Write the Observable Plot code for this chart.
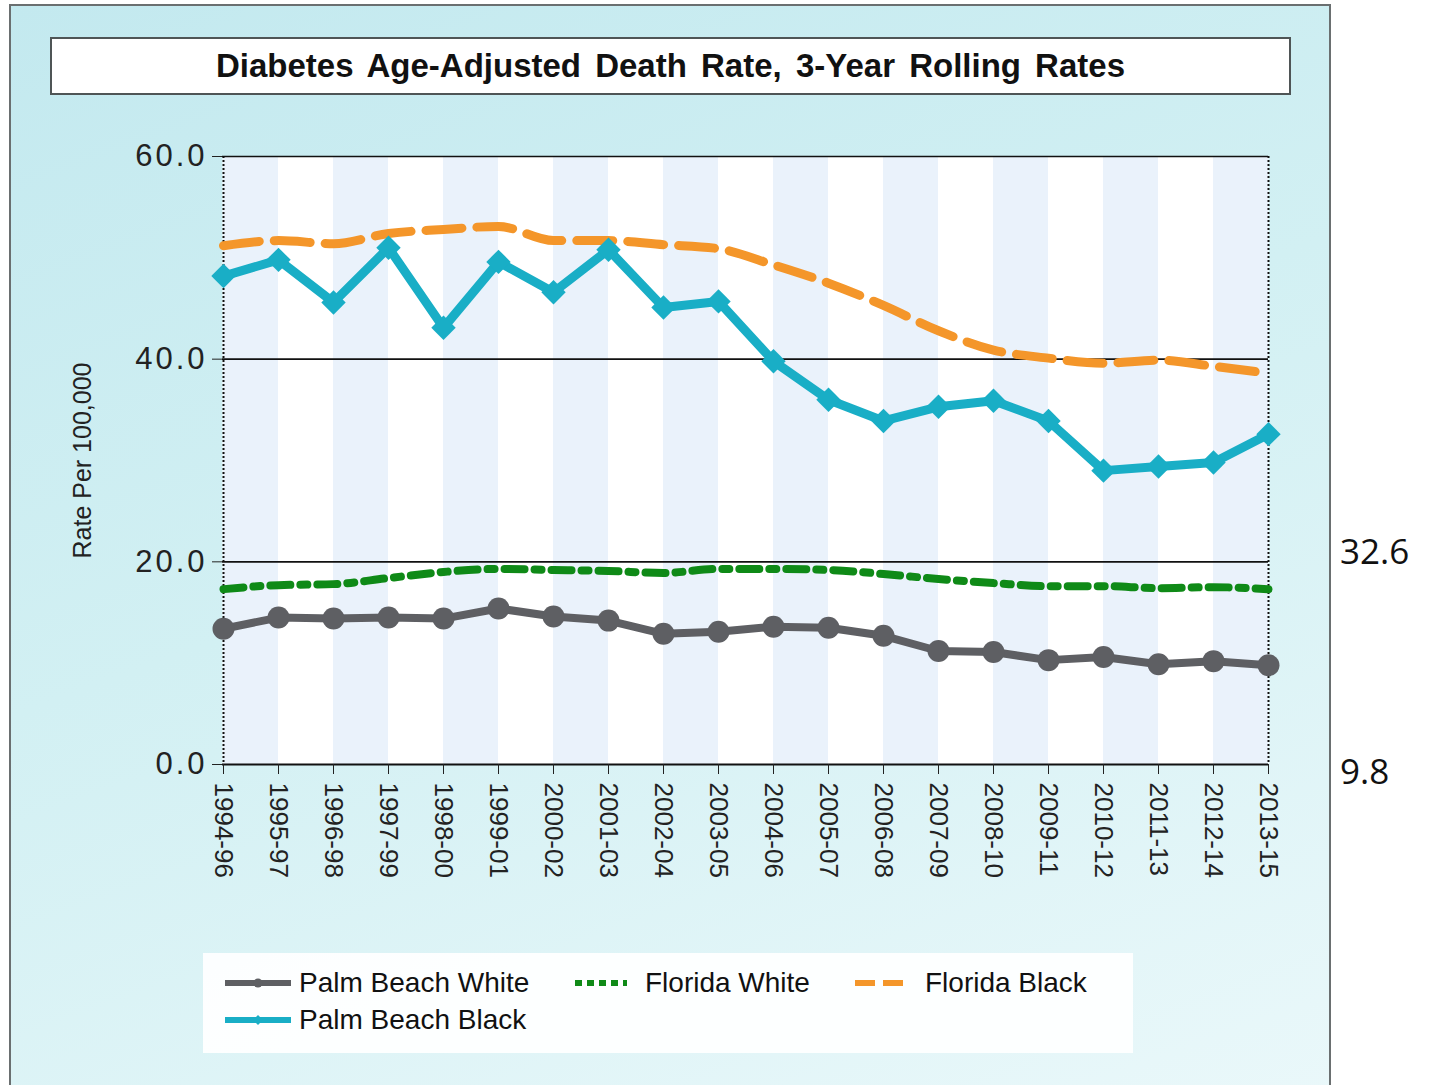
<!DOCTYPE html>
<html>
<head>
<meta charset="utf-8">
<script src="https://cdn.jsdelivr.net/npm/d3@7"></script>
<script src="https://cdn.jsdelivr.net/npm/@observablehq/plot@0.6"></script>
<style>
  html, body { margin: 0; padding: 0; background: #ffffff; }
  #wrap { position: relative; width: 1433px; height: 1085px; overflow: hidden; font-family: "Liberation Sans", Arial, sans-serif; }
  #panel { position: absolute; left: 9px; top: 4px; width: 1318px; height: 1100px;
    border: 2px solid #6a6f70; background: linear-gradient(160deg, #c3e9ef 0%, #d2f0f3 45%, #eaf8fa 100%); }
  #title { position: absolute; left: 50px; top: 37px; width: 1237px; height: 54px; background: #fff;
    border: 2px solid #4f5556; text-align: center; font-weight: bold; font-size: 33px; line-height: 54px; color: #111; word-spacing: 5px; }
  #chart { position: absolute; left: 0; top: 0; }
  #legend { position: absolute; left: 203px; top: 953px; width: 930px; height: 100px; background: rgba(255,255,255,0.92);
    font-size: 28px; color: #111; }
  .item { position: absolute; display: flex; align-items: center; height: 34px; }
  .item svg { margin-right: 8px; }
  .ann { position: absolute; font-family: "Open Sans", "Noto Sans", sans-serif; font-size: 35px; color: #111; }
</style>
</head>
<body>
<div id="wrap">
  <div id="panel"></div>
  <div id="title"></div>
  <div id="chart"></div>
  <div id="legend"></div>
</div>
<script>
const periods = ["1994-96","1995-97","1996-98","1997-99","1998-00","1999-01","2000-02","2001-03","2002-04","2003-05","2004-06","2005-07","2006-08","2007-09","2008-10","2009-11","2010-12","2011-13","2012-14","2013-15"];
const palmBeachWhite = [13.4,14.5,14.4,14.5,14.4,15.4,14.6,14.2,12.9,13.1,13.6,13.5,12.7,11.2,11.1,10.3,10.6,9.9,10.2,9.8];
const floridaWhite = [17.3,17.7,17.8,18.4,19.0,19.3,19.2,19.1,18.9,19.3,19.3,19.2,18.8,18.3,17.9,17.6,17.6,17.4,17.5,17.3];
const floridaBlack = [51.2,51.7,51.4,52.4,52.8,53.1,51.7,51.7,51.3,50.9,49.3,47.5,45.3,42.8,40.9,40.1,39.6,39.9,39.3,38.6];
const palmBeachBlack = [48.2,49.8,45.6,51.0,43.1,49.6,46.6,50.8,45.1,45.7,39.8,36.0,33.9,35.3,35.9,33.9,29.0,29.4,29.8,32.6];
const yTicks = [0, 20, 40, 60];
const titleText = "Diabetes Age-Adjusted Death Rate, 3-Year Rolling Rates";
const yLabel = "Rate Per 100,000";

const colors = { pbw: "#5e5f63", fw: "#0f8a17", fb: "#f4962a", pbb: "#19aec6" };

const rows = (vals) => periods.map((p, i) => ({ period: p, value: vals[i] }));
const stripes = periods.slice(0, -1).map((p, i) => ({ a: p, b: periods[i + 1], i })).filter(d => d.i % 2 === 0);

document.getElementById("title").textContent = titleText;

const chart = Plot.plot({
  width: 1433,
  height: 1085,
  marginLeft: 222,
  marginRight: 165,
  marginTop: 156,
  marginBottom: 321,
  style: { background: "transparent", fontFamily: "Liberation Sans, Arial, sans-serif", fontSize: "26px", color: "#222" },
  x: { type: "point", domain: periods, padding: 0, label: null, tickSize: 10, tickRotate: 90, tickPadding: 8 },
  y: { domain: [0, 60], ticks: yTicks, tickFormat: d => d.toFixed(1), tickSize: 10, tickPadding: 6, label: null },
  marks: [
    Plot.frame({ fill: "#ffffff", stroke: "none" }),
    Plot.rect(stripes, { x1: "a", x2: "b", y1: 0, y2: 60, fill: "#eaf2fb" }),
    Plot.ruleY([20, 40, 60], { stroke: "#111", strokeWidth: 1.6 }),
    Plot.ruleY([0], { stroke: "#111", strokeWidth: 2 }),
    Plot.ruleX([periods[0], periods[periods.length - 1]], { stroke: "#111", strokeWidth: 2, strokeDasharray: "2,2" }),
    Plot.axisY({ ticks: yTicks, tickFormat: d => d.toFixed(1), tickSize: 10, tickPadding: 5, fontSize: 31, label: null }),
    Plot.text([yLabel], { frameAnchor: "left", dx: -140, rotate: -90, textAnchor: "middle", fontSize: 25, fill: "#222" }),
    Plot.axisX({ tickSize: 10, tickRotate: 90, tickPadding: 8, fontSize: 26, label: null }),
    Plot.line(rows(floridaBlack), { x: "period", y: "value", stroke: colors.fb, strokeWidth: 9, strokeDasharray: "36,15", curve: "monotone-x" }),
    Plot.line(rows(floridaWhite), { x: "period", y: "value", stroke: colors.fw, strokeWidth: 8, strokeDasharray: "20,10,7,10", curve: "monotone-x" }),
    Plot.line(rows(palmBeachWhite), { x: "period", y: "value", stroke: colors.pbw, strokeWidth: 8 }),
    Plot.dot(rows(palmBeachWhite), { x: "period", y: "value", fill: colors.pbw, r: 11, symbol: "circle" }),
    Plot.line(rows(palmBeachBlack), { x: "period", y: "value", stroke: colors.pbb, strokeWidth: 9 }),
    Plot.dot(rows(palmBeachBlack), { x: "period", y: "value", fill: colors.pbb, r: 11, symbol: "diamond2" })
  ]
});
d3.select(chart).selectAll('g[aria-label="y-axis tick label"] text').style("letter-spacing", "3px");
document.getElementById("chart").appendChild(chart);

// annotations with the last values
const wrap = document.getElementById("wrap");
[[palmBeachBlack, 527], [palmBeachWhite, 747]].forEach(([vals, top]) => {
  const d = document.createElement("div");
  d.className = "ann";
  d.style.left = "1340px";
  d.style.top = top + "px";
  d.textContent = String(vals[vals.length - 1]);
  wrap.appendChild(d);
});

// legend
const legendItems = [
  { label: "Palm Beach White", color: colors.pbw, dash: null, marker: "circle", x: 22, y: 13 },
  { label: "Florida White", color: colors.fw, dash: "7,5", marker: null, x: 372, y: 13 },
  { label: "Florida Black", color: colors.fb, dash: "20,8", marker: null, x: 652, y: 13 },
  { label: "Palm Beach Black", color: colors.pbb, dash: null, marker: "diamond", x: 22, y: 50 }
];
const legend = document.getElementById("legend");
legendItems.forEach(it => {
  const div = document.createElement("div");
  div.className = "item";
  div.style.left = it.x + "px";
  div.style.top = it.y + "px";
  const w = it.marker ? 66 : 52;
  let svg = `<svg width="${w}" height="20">`;
  svg += `<line x1="0" x2="${w}" y1="10" y2="10" stroke="${it.color}" stroke-width="6" ${it.dash ? `stroke-dasharray="${it.dash}"` : ""}/>`;
  if (it.marker === "circle") svg += `<circle cx="${w/2}" cy="10" r="4.5" fill="${it.color}"/>`;
  if (it.marker === "diamond") svg += `<path d="M${w/2} 5 L${w/2+5} 10 L${w/2} 15 L${w/2-5} 10Z" fill="${it.color}"/>`;
  svg += `</svg>`;
  div.innerHTML = svg + `<span>${it.label}</span>`;
  if (!it.marker) div.querySelector("svg").style.marginRight = "18px";
  legend.appendChild(div);
});
</script>
</body>
</html>
